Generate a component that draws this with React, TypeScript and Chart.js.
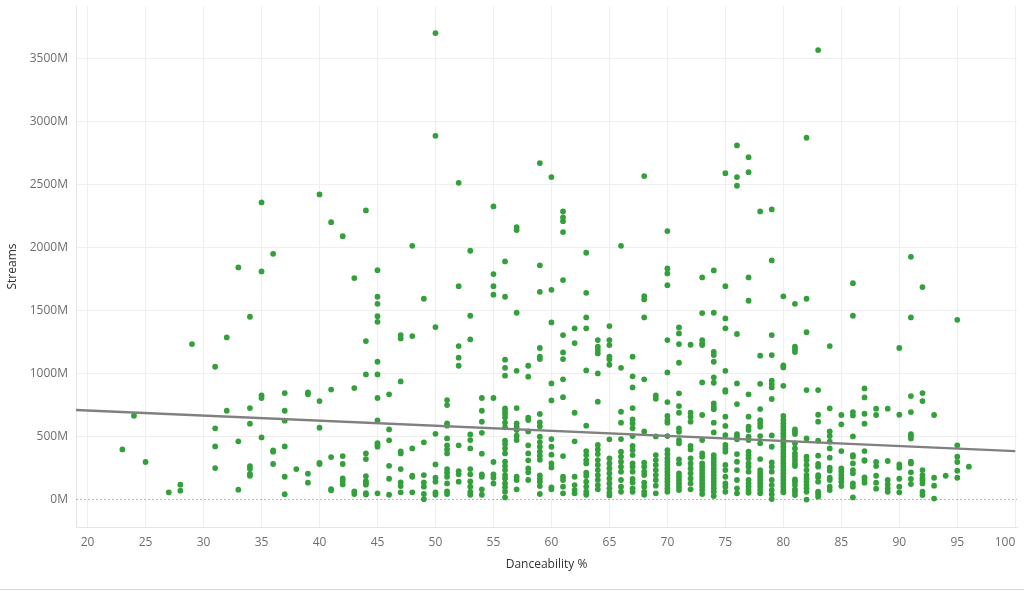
import { useEffect, useRef } from "react";
import { Chart, registerables } from "chart.js";

Chart.register(...registerables);

// danceability % -> streams (millions)
const DANCE_20_40: [number, number[]][] = [
  [23, [398]],
  [24, [665]],
  [25, [298]],
  [27, [57]],
  [28, [118, 70]],
  [29, [1234]],
  [31, [1054, 565, 422, 250]],
  [32, [1287, 705]],
  [33, [1843, 462, 78]],
  [34, [1451, 726, 602, 266, 245, 203, 189]],
  [35, [2359, 1811, 827, 806, 493]],
  [36, [1951, 390, 380, 282]],
  [37, [845, 705, 626, 422, 181, 42]],
  [38, [242]],
  [39, [851, 835, 205, 134]],
  [40, [2422, 782, 570, 290, 282]],
];

const DANCE_41_50: [number, number[]][] = [
  [41, [2202, 873, 337, 83, 73]],
  [42, [2091, 345, 282, 168, 147, 120]],
  [43, [1758, 885, 65, 44]],
  [44, [2295, 1258, 993, 366, 321, 185, 145, 132, 118, 50, 40]],
  [45, [1821, 1610, 1554, 1456, 1411, 1094, 993, 806, 628, 448, 435, 420, 49]],
  [46, [835, 557, 470, 268, 165, 38]],
  [47, [1306, 1279, 938, 382, 366, 242, 136, 107, 57]],
  [48, [2014, 1298, 406, 189, 181, 57]],
  [49, [1594, 454, 194, 136, 102, 44, 3]],
  [50, [3703, 2887, 1369, 522, 279, 173, 142, 57, 38]],
];

const DANCE_51_60: [number, number[]][] = [
  [51, [790, 750, 605, 586, 485, 430, 398, 366, 242, 213, 181, 128, 65, 44]],
  [52, [2514, 1694, 1218, 1126, 1062, 430, 226, 200, 142]],
  [53, [1975, 1459, 1271, 517, 472, 406, 242, 200, 144, 102, 60, 38]],
  [54, [806, 705, 618, 530, 364, 200, 181, 81, 38]],
  [55, [2327, 1790, 1694, 1626, 806, 298, 200, 173, 128]],
  [56, [1890, 1610, 1110, 1046, 983, 724, 702, 679, 652, 610, 573, 467, 440, 406, 366, 300, 266, 234, 194, 168, 128, 97, 62, 17]],
  [57, [2163, 2139, 1483, 1022, 726, 605, 578, 552, 507, 472, 181, 155, 81]],
  [58, [1062, 975, 650, 631, 541, 430, 366, 311, 247, 216, 155]],
  [59, [2671, 1859, 1649, 1203, 1134, 1115, 679, 612, 581, 499, 456, 419, 380, 348, 316, 192, 165, 142, 107, 44]],
  [60, [2560, 1665, 1406, 922, 787, 480, 419, 356, 287, 255, 97, 81]],
];

const DANCE_61_70: [number, number[]][] = [
  [61, [2287, 2240, 2210, 2123, 1742, 1306, 1168, 1115, 954, 813, 345, 181, 155, 102, 49]],
  [62, [1359, 1242, 689, 462, 181, 115, 75, 49]],
  [63, [1959, 1641, 1446, 1359, 1025, 586, 385, 353, 313, 287, 213, 187, 142, 102, 62, 38]],
  [64, [1266, 1213, 1187, 1160, 1001, 777, 433, 398, 361, 313, 274, 234, 194, 155, 115, 81]],
  [65, [1377, 1266, 1226, 1134, 1113, 1070, 478, 327, 287, 247, 208, 168, 128, 89, 54, 33]],
  [66, [2014, 1046, 697, 610, 480, 380, 340, 300, 261, 221, 155, 102, 62]],
  [67, [1134, 978, 890, 726, 636, 604, 565, 504, 425, 393, 353, 287, 261, 221, 163, 136, 89, 62]],
  [68, [2568, 1615, 1589, 1446, 954, 541, 292, 261, 221, 194, 134, 102, 62, 38]],
  [69, [827, 800, 501, 353, 313, 274, 234, 194, 155, 110, 49]],
  [70, [2131, 1835, 1795, 1702, 1266, 1009, 774, 663, 631, 610, 504, 393, 361, 327, 300, 274, 247, 221, 194, 168, 142, 115, 89, 62]],
];

const DANCE_71_80: [number, number[]][] = [
  [71, [1366, 1319, 1234, 1086, 843, 742, 689, 565, 538, 472, 446, 319, 287, 208, 181, 155, 128, 102, 75]],
  [72, [1229, 689, 657, 618, 425, 398, 327, 287, 247, 208, 168, 128, 81]],
  [73, [1763, 1480, 1266, 1240, 1226, 930, 671, 472, 366, 340, 287, 261, 234, 208, 181, 155, 128, 102, 75, 44]],
  [74, [1819, 1483, 1173, 1147, 1094, 970, 927, 763, 737, 716, 610, 533, 353, 327, 300, 274, 247, 221, 194, 168, 142, 115, 89, 62, 28]],
  [75, [2591, 1694, 1438, 1359, 1022, 869, 856, 658, 584, 512, 433, 406, 380, 274, 234, 181, 128, 102, 62]],
  [76, [2811, 2560, 2491, 1314, 922, 758, 520, 499, 478, 361, 300, 234, 155, 89, 49]],
  [77, [2718, 2599, 1763, 1578, 835, 658, 578, 552, 499, 472, 380, 353, 327, 287, 261, 221, 155, 128, 102, 75, 54]],
  [78, [2287, 1142, 919, 718, 631, 605, 578, 504, 446, 321, 234, 208, 181, 155, 128, 102, 75, 49]],
  [79, [2303, 1898, 1306, 1147, 943, 917, 890, 798, 509, 419, 295, 261, 221, 155, 115, 75, 41, 4]],
  [80, [1613, 1065, 1049, 903, 663, 631, 605, 578, 552, 525, 499, 472, 446, 419, 393, 366, 340, 313, 287, 261, 234, 208, 181, 155, 128, 102, 75, 57]],
];

const DANCE_81_96: [number, number[]][] = [
  [81, [1554, 1213, 1192, 1171, 557, 538, 520, 446, 406, 366, 340, 313, 287, 266, 160, 142, 115, 81, 62, 36]],
  [82, [2872, 1594, 1329, 869, 485, 340, 313, 274, 234, 194, 168, 142, 115, 89, 62, 0]],
  [83, [3568, 869, 673, 618, 467, 348, 282, 261, 194, 176, 142, 62, 44, 23]],
  [84, [1218, 724, 541, 504, 459, 406, 332, 253, 229, 173, 155, 102, 75]],
  [85, [671, 597, 385, 247, 221, 194, 168, 142, 107]],
  [86, [1718, 1459, 694, 668, 501, 353, 340, 287, 234, 208, 128, 102, 17]],
  [87, [882, 811, 681, 602, 385, 313, 308, 176, 155, 134]],
  [88, [721, 671, 298, 266, 189, 134, 86]],
  [89, [721, 306, 155, 120, 89, 62]],
  [90, [1203, 673, 279, 253, 165, 102, 57]],
  [91, [1927, 1446, 821, 694, 520, 504, 485, 300, 287, 216, 163, 123]],
  [92, [1687, 845, 782, 234, 194, 168, 149, 128, 62, 36]],
  [93, [671, 173, 110, 8]],
  [94, [189]],
  [95, [1427, 430, 340, 298, 229, 173]],
  [96, [261]],
];

// trend line end points (danceability, streams M)
const TREND_X = [19, 100];
const TREND_Y = [711, 384];

// 19 is an unlabeled edge tick so "100" can sit right-aligned like the original
const X_TICKS = [19, 20, 25, 30, 35, 40, 45, 50, 55, 60, 65, 70, 75, 80, 85, 90, 95, 100];
const Y_TICKS = [0, 500, 1000, 1500, 2000, 2500, 3000, 3500];

const FONT = "'Open Sans', 'DejaVu Sans', sans-serif";
const X_MIN = 19;
const X_MAX = 100.15;

export default function App() {
  const canvasRef = useRef<HTMLCanvasElement>(null);

  useEffect(() => {
    if (!canvasRef.current) return;

    const points = [
      ...DANCE_20_40,
      ...DANCE_41_50,
      ...DANCE_51_60,
      ...DANCE_61_70,
      ...DANCE_71_80,
      ...DANCE_81_96,
    ].flatMap(([x, ys]) => ys.map((y) => ({ x, y })));

    const chart = new Chart(canvasRef.current, {
      type: "scatter",
      data: {
        datasets: [
          {
            data: TREND_X.map((x, i) => ({ x, y: TREND_Y[i] })),
            showLine: true,
            borderColor: "#808080",
            borderWidth: 2.4,
            pointRadius: 0,
            order: 0,
          },
          {
            data: points,
            backgroundColor: "#34a03c",
            borderColor: "#34a03c",
            borderWidth: 0,
            pointRadius: 2.9,
            order: 1,
          },
          {
            // dotted zero line
            data: [
              { x: X_MIN, y: 0 },
              { x: X_MAX, y: 0 },
            ],
            showLine: true,
            borderColor: "#b5b5b5",
            borderWidth: 1,
            borderDash: [2, 2],
            pointRadius: 0,
            order: 2,
          },
        ],
      },
      options: {
        responsive: true,
        maintainAspectRatio: false,
        animation: false,
        layout: { padding: { top: 6, right: 7, left: 0, bottom: 0 } },
        plugins: {
          legend: { display: false },
          tooltip: { enabled: false },
        },
        scales: {
          x: {
            type: "linear",
            min: X_MIN,
            max: X_MAX,
            afterBuildTicks: (scale) => {
              scale.ticks = X_TICKS.map((value) => ({ value }));
            },
            afterFit: (scale) => {
              scale.height = 62;
              scale.paddingLeft = 0;
              scale.paddingRight = 0;
            },
            grid: {
              color: (ctx) => (ctx.tick && ctx.tick.value === X_MIN ? "rgba(0,0,0,0)" : "#efefef"),
              drawTicks: false,
            },
            border: { color: "#e6e6e6" },
            ticks: {
              color: "#6e6e6e",
              font: { family: FONT, size: 12 },
              padding: 8,
              maxRotation: 0,
              autoSkip: false,
              align: "inner",
              callback: (v) => (v === X_MIN ? "" : `${v}`),
            },
            title: {
              display: true,
              text: "Danceability %",
              color: "#333333",
              font: { family: FONT, size: 12 },
              padding: { top: 0, bottom: 17 },
            },
          },
          y: {
            type: "linear",
            min: -218,
            max: 3918,
            afterBuildTicks: (scale) => {
              scale.ticks = Y_TICKS.map((value) => ({ value }));
            },
            afterFit: (scale) => {
              scale.width = 76;
              scale.paddingTop = 0;
              scale.paddingBottom = 0;
            },
            grid: {
              color: (ctx) => (ctx.tick && ctx.tick.value === 0 ? "rgba(0,0,0,0)" : "#efefef"),
              drawTicks: false,
            },
            border: { color: "#e6e6e6" },
            ticks: {
              color: "#6e6e6e",
              font: { family: FONT, size: 12 },
              padding: 8,
              callback: (v) => `${v}M`,
            },
            title: {
              display: true,
              text: "Streams",
              color: "#333333",
              font: { family: FONT, size: 12 },
              padding: { top: 5, bottom: 0 },
            },
          },
        },
      },
    });

    return () => {
      chart.destroy();
    };
  }, []);

  return (
    <div
      style={{
        position: "absolute",
        top: 0,
        left: 0,
        width: "1024px",
        height: "591px",
        background: "#ffffff",
      }}
    >
      <div style={{ position: "relative", width: "1024px", height: "589px" }}>
        <canvas ref={canvasRef} />
      </div>
      <div style={{ height: "1px", background: "#d6d6d6" }} />
    </div>
  );
}
